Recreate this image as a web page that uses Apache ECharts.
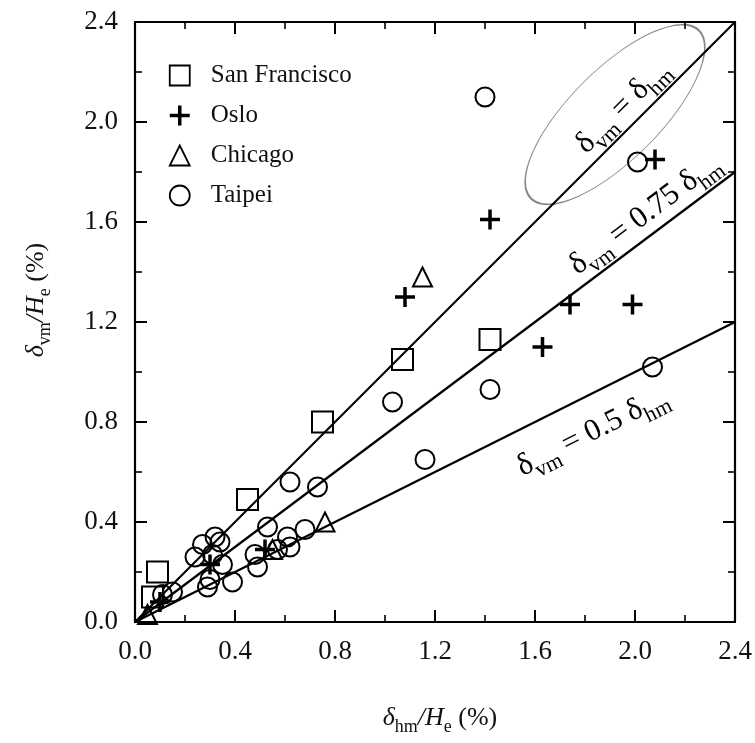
<!DOCTYPE html>
<html><head><meta charset="utf-8">
<script src="https://cdn.jsdelivr.net/npm/echarts@6/dist/echarts.min.js"></script>
<style>html,body{margin:0;padding:0;background:#fff}#c{width:755px;height:743px}</style>
</head><body><div id="c"></div>
<script>
// ---- data ----
const tickLabels = ['0.0','0.4','0.8','1.2','1.6','2.0','2.4'];
const sfX = [0.07, 0.09, 0.45, 0.75, 1.07, 1.42];
const sfY = [0.10, 0.20, 0.49, 0.80, 1.05, 1.13];
const osloX = [0.10, 0.30, 0.52, 1.08, 1.42, 1.63, 1.74, 1.99, 2.08];
const osloY = [0.08, 0.23, 0.29, 1.30, 1.61, 1.10, 1.27, 1.27, 1.85];
const chicagoX = [0.05, 0.55, 0.76, 1.15];
const chicagoY = [0.03, 0.29, 0.40, 1.38];
const taipeiX = [0.11, 0.15, 0.24, 0.27, 0.29, 0.30, 0.31, 0.32, 0.34, 0.35, 0.39, 0.48, 0.49, 0.53, 0.57, 0.61, 0.62, 0.62, 0.68, 0.73, 1.03, 1.16, 1.40, 1.42, 2.01, 2.07];
const taipeiY = [0.11, 0.12, 0.26, 0.31, 0.14, 0.17, 0.27, 0.34, 0.32, 0.23, 0.16, 0.27, 0.22, 0.38, 0.29, 0.34, 0.30, 0.56, 0.37, 0.54, 0.88, 0.65, 2.10, 0.93, 1.84, 1.02];
const refX = [0, 2.4];
const ref100Y = [0, 2.4];
const ref075Y = [0, 1.8];
const ref050Y = [0, 1.2];
// annotation anchors (data coords) and texts
const annRatio = ['1', '0.75', '0.5'];
const annX = [1.95, 2.04, 1.83];
const annY = [2.06, 1.63, 0.76];
const annRot = [45, 36.87, 26.57];
const ellipseCenter = [1.92, 2.03];

const FONT = '"Liberation Serif","Times New Roman",serif';
const zip = (a, b) => a.map((v, i) => [v, b[i]]);
const hollow = w => ({ color: 'transparent', borderColor: '#000', borderWidth: w, opacity: 1 });

const annRich = {
  d: { fontFamily: FONT, fontSize: 31, color: '#000', lineHeight: 36, textBorderWidth: 0 },
  s: { fontFamily: FONT, fontSize: 22, color: '#000', lineHeight: 22, verticalAlign: 'bottom', padding: [0,0,-4,0], textBorderWidth: 0 }
};
function annText(r) {
  return r === '1' ? '{d|δ}{s|vm}{d| = δ}{s|hm}' : '{d|δ}{s|vm}{d| = ' + r + ' δ}{s|hm}';
}

const lineSeries = (name, ys) => ({
  type: 'line', name, data: zip(refX, ys), symbol: 'none', silent: true,
  lineStyle: { color: '#000', width: 2.2 }, z: 1, legendHoverLink: false
});

const axisCommon = {
  type: 'value', min: 0, max: 2.4, interval: 0.4,
  axisLine: { show: true, onZero: false, lineStyle: { color: '#000', width: 2.2 } },
  axisTick: { show: true, inside: true, length: 12, lineStyle: { color: '#000', width: 2 } },
  minorTick: { show: true, splitNumber: 2, length: 7, lineStyle: { color: '#000', width: 1.6 } },
  splitLine: { show: false }, minorSplitLine: { show: false }
};
const labelCommon = { show: true, fontFamily: FONT, fontSize: 27, color: '#111',
  formatter: v => tickLabels[Math.round(v / 0.4)] };

const chart = echarts.init(document.getElementById('c'), null, { renderer: 'canvas' });
chart.setOption({
  backgroundColor: '#fff',
  animation: false,
  grid: { left: 135, right: 20, top: 22, bottom: 121, containLabel: false },
  xAxis: [
    Object.assign({}, axisCommon, { position: 'bottom', axisLabel: Object.assign({}, labelCommon, { margin: 16 }) }),
    Object.assign({}, axisCommon, { position: 'top', axisLabel: { show: false } })
  ],
  yAxis: [
    Object.assign({}, axisCommon, { position: 'left', axisLabel: Object.assign({}, labelCommon, { margin: 17 }) }),
    Object.assign({}, axisCommon, { position: 'right', axisLabel: { show: false } })
  ],
  legend: {
    orient: 'vertical', left: 163, top: 58, itemGap: 15, itemWidth: 20, itemHeight: 20,
    data: [
      { name: 'San Francisco', itemStyle: hollow(1.8) },
      { name: 'Oslo', itemStyle: hollow(3.5) },
      { name: 'Chicago', itemStyle: hollow(1.8) },
      { name: 'Taipei', itemStyle: hollow(1.8) }
    ],
    formatter: n => '{t|' + n + '}',
    textStyle: { fontFamily: FONT, fontSize: 25, color: '#111',
      rich: { t: { fontFamily: FONT, fontSize: 25, color: '#111', padding: [0, 0, 0, 16] } } },
    selectedMode: false
  },
  series: [
    lineSeries('r1', ref100Y),
    lineSeries('r075', ref075Y),
    lineSeries('r05', ref050Y),
    { type: 'scatter', name: 'San Francisco', data: zip(sfX, sfY), symbol: 'rect', symbolSize: 21,
      itemStyle: hollow(2), z: 3 },
    { type: 'scatter', name: 'Oslo', data: zip(osloX, osloY), symbol: 'path://M0,10 L20,10 M10,0 L10,20',
      symbolSize: 20, itemStyle: hollow(3.5), z: 3 },
    { type: 'scatter', name: 'Chicago', data: zip(chicagoX, chicagoY), symbol: 'triangle', symbolSize: 19,
      itemStyle: hollow(2), z: 3 },
    { type: 'scatter', name: 'Taipei', data: zip(taipeiX, taipeiY), symbol: 'circle', symbolSize: 19,
      itemStyle: hollow(2), z: 3 },
    { type: 'scatter', name: 'ann', silent: true, symbolSize: 0, z: 4, itemStyle: { opacity: 1 },
      data: annX.map((x, i) => ({
        value: [x, annY[i]],
        label: { show: true, position: 'inside', rotate: annRot[i], color: '#000', textBorderWidth: 0,
          formatter: annText(annRatio[i]), rich: annRich }
      })) }
  ]
});

const ctr = chart.convertToPixel({ gridIndex: 0 }, ellipseCenter);
chart.setOption({
  graphic: [
    { type: 'circle', x: ctr[0], y: ctr[1], rotation: Math.PI / 4, scaleX: 2.64, scaleY: 1,
      shape: { cx: 0, cy: 0, r: 45 }, silent: true,
      style: { fill: 'none', stroke: '#888', lineWidth: 1.3, strokeNoScale: true } },
    { type: 'text', x: 440, y: 718, silent: true,
      style: { text: '{i|δ}{s|hm}{i|/H}{s|e}{n| (%)}', align: 'center', verticalAlign: 'middle',
        rich: {
          i: { fontFamily: FONT, fontStyle: 'italic', fontSize: 26, fill: '#111', lineHeight: 30 },
          n: { fontFamily: FONT, fontSize: 26, fill: '#111', lineHeight: 30 },
          s: { fontFamily: FONT, fontSize: 18, fill: '#111', lineHeight: 18, verticalAlign: 'bottom', padding: [0,0,-3,0] }
        } } },
    { type: 'text', x: 36, y: 300, rotation: Math.PI / 2, silent: true,
      style: { text: '{i|δ}{s|vm}{i|/H}{s|e}{n| (%)}', align: 'center', verticalAlign: 'middle',
        rich: {
          i: { fontFamily: FONT, fontStyle: 'italic', fontSize: 26, fill: '#111', lineHeight: 30 },
          n: { fontFamily: FONT, fontSize: 26, fill: '#111', lineHeight: 30 },
          s: { fontFamily: FONT, fontSize: 18, fill: '#111', lineHeight: 18, verticalAlign: 'bottom', padding: [0,0,-3,0] }
        } } }
  ]
});
</script></body></html>
